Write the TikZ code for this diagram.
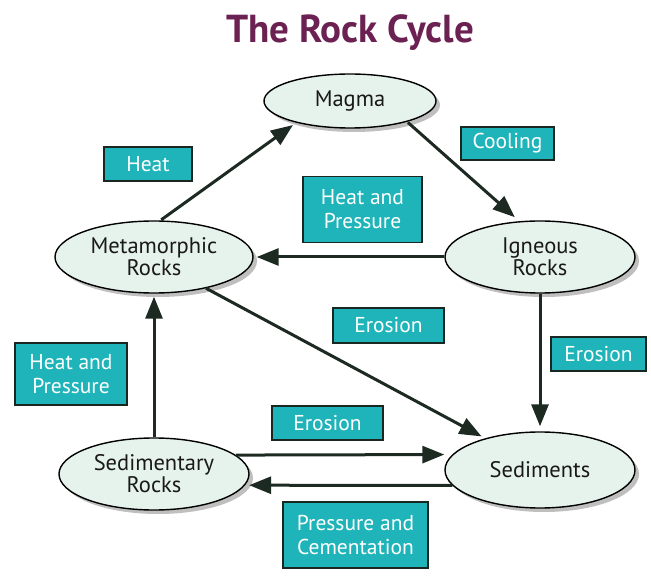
\documentclass[tikz,border=0pt]{standalone}
\usepackage{fontspec}
\setmainfont{PT Sans}
\usetikzlibrary{shapes.geometric,arrows.meta,shadows}
\definecolor{titlec}{HTML}{6B2151}
\definecolor{rockfill}{HTML}{E6F2EC}
\definecolor{boxfill}{HTML}{1EB4B9}
\definecolor{boxedge}{HTML}{1A2620}
\definecolor{arrowc}{HTML}{1C2A22}
\begin{document}
\begin{tikzpicture}[x=1pt,y=-1pt,
  rock/.style={ellipse, draw=black, line width=1.4pt, fill=rockfill, inner sep=0pt,
    align=center, font=\fontsize{22.5}{22}\selectfont, text=black!90,
    drop shadow={shadow xshift=4pt, shadow yshift=-4pt, opacity=0.25, fill=black}},
  lbl/.style={rectangle, draw=boxedge, line width=1.4pt, fill=boxfill, text=white,
    align=center, inner sep=0pt, font=\fontsize{21.5}{24}\selectfont},
  flow/.style={draw=arrowc, line width=3pt, -{Triangle[length=22pt,width=17pt]}}]
\useasboundingbox (0,0) rectangle (651,577);
\fill[white] (0,0) rectangle (651,577);

\node[font=\fontsize{39}{39}\selectfont\bfseries, text=titlec, anchor=base] (title) at (350,43) {The Rock Cycle};

% rocks
\node[rock, minimum width=172pt, minimum height=54pt] (magma) at (350,101) {Magma};
\node[rock, minimum width=198pt, minimum height=72pt] (meta) at (154,257) {Metamorphic\\Rocks};
\node[rock, minimum width=190pt, minimum height=72pt] (ign) at (540,257) {Igneous\\Rocks};
\node[rock, minimum width=190pt, minimum height=72pt] (sedr) at (154,474) {Sedimentary\\Rocks};
\node[rock, minimum width=190pt, minimum height=76pt] (sed) at (540,470) {Sediments};

% labels
\node[lbl, minimum width=88pt, minimum height=34pt] (l1) at (148,164) {Heat};
\node[lbl, minimum width=93pt, minimum height=33pt] (l2) at (507.5,143.5) {Cooling};
\node[lbl, minimum width=119pt, minimum height=66pt] (l3) at (362.5,209.5) {Heat and\\Pressure};
\node[lbl, minimum width=111pt, minimum height=35pt] (l4) at (388.5,325.5) {Erosion};
\node[lbl, minimum width=95pt, minimum height=34pt] (l5) at (598.5,354) {Erosion};
\node[lbl, minimum width=112pt, minimum height=62pt] (l6) at (71,374) {Heat and\\Pressure};
\node[lbl, minimum width=111pt, minimum height=34pt] (l7) at (327.5,423) {Erosion};
\node[lbl, minimum width=145pt, minimum height=66pt] (l8) at (355.5,535) {Pressure and\\Cementation};

% arrows
\draw[flow, shorten <=1pt, shorten >=4pt] (meta.80) -- (magma.202);
\draw[flow, shorten <=1pt, shorten >=6pt] (magma.340) -- (ign.120);
\draw[flow, shorten >=3pt] (ign.west) -- (meta.east);
\draw[flow, shorten >=5pt] (ign.south) -- (sed.north);
\draw[flow, shorten >=4pt] (meta.329) -- (sed.150);
\draw[flow, shorten >=3pt] (sedr.north) -- (meta.south);
\draw[flow, shorten >=8pt] (sedr.13) -- (sed.170);
\draw[flow, shorten >=4pt] (sed.190) -- (sedr.353);
\end{tikzpicture}
\end{document}
